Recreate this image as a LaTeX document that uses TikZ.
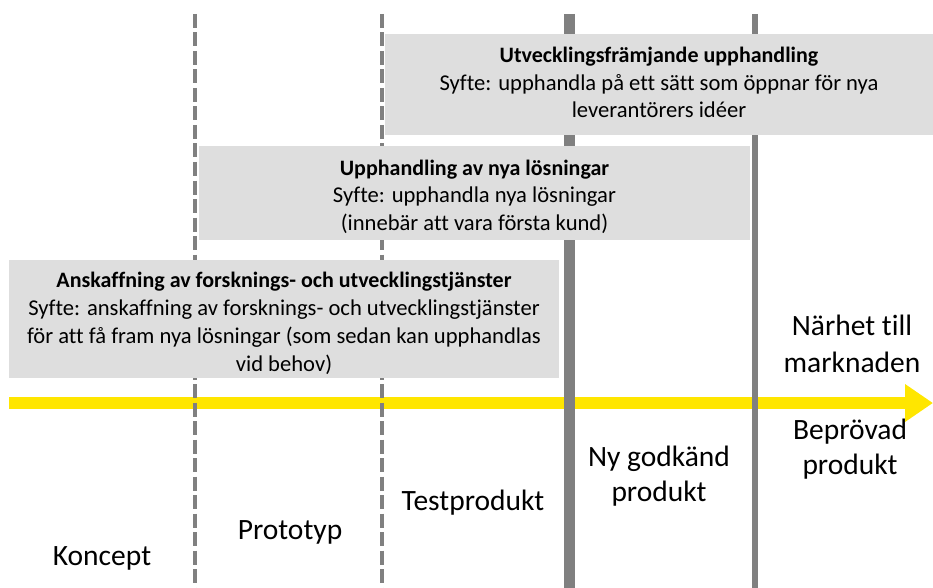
\documentclass[tikz,border=0pt]{standalone}
\usepackage{fontspec}
\setmainfont{Carlito}[Ligatures=NoCommon]
\usetikzlibrary{arrows.meta}
\definecolor{boxgray}{RGB}{222,222,222}
\definecolor{linegray}{RGB}{128,128,128}
\definecolor{axisyellow}{RGB}{255,230,0}
\newcommand\formtitle[1]{{\bfseries\fontsize{22}{27.5}\selectfont #1}}
\begin{document}
\begin{tikzpicture}[x=1pt,y=-1pt,
  phase/.style={draw=linegray, line width=3.5pt, dash pattern=on 14pt off 4.5pt},
  gate/.style={draw=linegray},
  axis/.style={draw=axisyellow, line width=12pt, -{Triangle[length=28pt,width=36pt]}},
  box/.style={fill=boxgray, draw=none, inner sep=0pt},
  boxtext/.style={align=center, inner sep=0pt, font=\fontsize{22.6}{27.5}\selectfont},
  stage/.style={align=center, inner sep=0pt, font=\fontsize{29.5}{35}\selectfont}]
\useasboundingbox (0,0) rectangle (933,588);

% market axis
\coordinate (axstart) at (9,403);
\coordinate (axend) at (933,403);
\draw[axis] (axstart) -- (axend);

% phase boundaries
\coordinate (d1t) at (195,14);  \coordinate (d1b) at (195,588);
\coordinate (d2t) at (382,14);  \coordinate (d2b) at (382,588);
\coordinate (g1t) at (569,14);  \coordinate (g1b) at (569,588);
\coordinate (g2t) at (755,14);  \coordinate (g2b) at (755,588);
\draw[phase] (d1t) -- (d1b);
\draw[phase] (d2t) -- (d2b);
\draw[gate, line width=11pt] (g1t) -- (g1b);
\draw[gate, line width=6pt] (g2t) -- (g2b);

% procurement forms
\node[box, minimum width=548pt, minimum height=101pt] (b1) at (659,84.5) {};
\node[box, minimum width=551pt, minimum height=94pt] (b2) at (474.5,193) {};
\node[box, minimum width=550pt, minimum height=118pt] (b3) at (284,319) {};
\node[boxtext, yshift=2pt] (t1) at (b1.center)
  {\formtitle{Utvecklingsfrämjande upphandling}\\
   Syfte: upphandla på ett sätt som öppnar för nya\\
   leverantörers idéer};
\node[boxtext, yshift=-3.5pt] (t2) at (b2.center)
  {\formtitle{Upphandling av nya lösningar}\\
   Syfte: upphandla nya lösningar\\
   (innebär att vara första kund)};
\node[boxtext, yshift=-4pt, font=\fontsize{22.6}{28}\selectfont] (t3) at (b3.center)
  {\formtitle{Anskaffning av forsknings- och utvecklingstjänster}\\
   Syfte: anskaffning av forsknings- och utvecklingstjänster\\
   för att få fram nya lösningar (som sedan kan upphandlas\\
   vid behov)};

% axis title and stages
\node[stage, font=\fontsize{29.5}{37}\selectfont] (near) at (852,344) {Närhet till\\marknaden};
\node[stage] (s5) at (850,449) {Beprövad\\produkt};
\node[stage] (s4) at (659,476) {Ny godkänd\\produkt};
\node[stage] (s3) at (473,502.5) {Testprodukt};
\node[stage] (s2) at (290,532.5) {Prototyp};
\node[stage] (s1) at (102,558.5) {Koncept};
\end{tikzpicture}
\end{document}
